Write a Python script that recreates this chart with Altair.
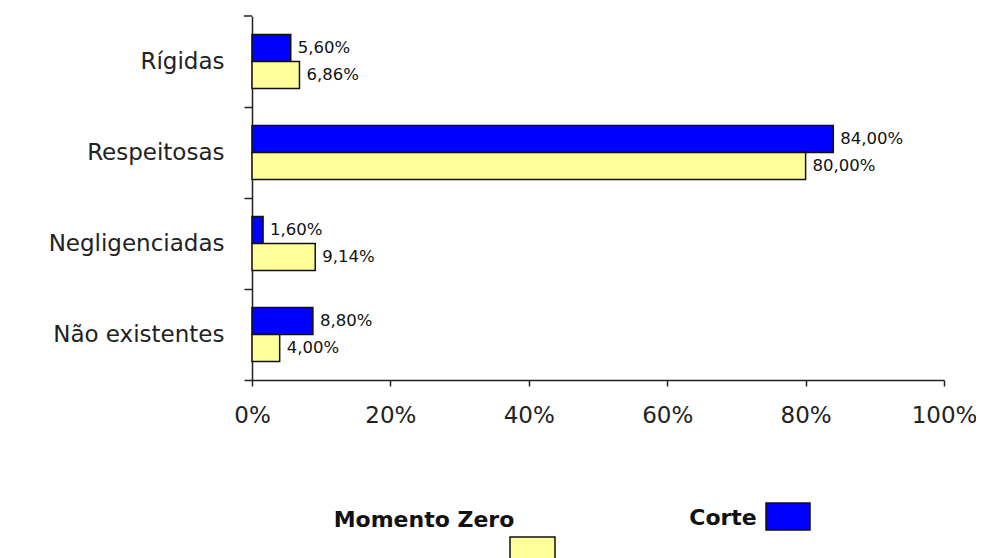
import altair as alt
import pandas as pd

categories = ["Rígidas", "Respeitosas", "Negligenciadas", "Não existentes"]
series = ["Corte", "Momento Zero"]
corte = [5.60, 84.00, 1.60, 8.80]
momento_zero = [6.86, 80.00, 9.14, 4.00]
colors = ["#0000FF", "#FFFF99"]
x_ticks = [0, 20, 40, 60, 80, 100]

rows = []
for c, v1, v2 in zip(categories, corte, momento_zero):
    rows.append({"categoria": c, "serie": "Corte", "valor": v1})
    rows.append({"categoria": c, "serie": "Momento Zero", "valor": v2})
df = pd.DataFrame(rows)

FONT = "DejaVu Sans"
INK = "#222222"

base = alt.Chart(df).encode(
    y=alt.Y(
        "categoria:N",
        sort=categories,
        scale=alt.Scale(paddingInner=0.4066, paddingOuter=0.2033),
        axis=alt.Axis(
            title=None,
            tickOffset=45.5,
            labelOffset=-45.5,
            tickSize=8,
            labelPadding=20,
            labelFontSize=23,
            labelFont=FONT,
            labelColor=INK,
            domainColor=INK,
            tickColor=INK,
            domainWidth=1.5,
            tickWidth=1.5,
        ),
    ),
    yOffset=alt.YOffset("serie:N", sort=series),
    x=alt.X(
        "valor:Q",
        scale=alt.Scale(domain=[0, 100], nice=False),
        axis=alt.Axis(
            title=None,
            values=x_ticks,
            labelExpr="datum.value + '%'",
            grid=False,
            labelFlush=False,
            tickSize=6,
            labelPadding=18,
            labelFontSize=23,
            labelFont=FONT,
            labelColor=INK,
            domainColor=INK,
            tickColor=INK,
            domainWidth=1.5,
            tickWidth=1.5,
        ),
    ),
)

bars = base.mark_bar(stroke="#111111", strokeWidth=1.5).encode(
    color=alt.Color(
        "serie:N",
        scale=alt.Scale(domain=series, range=colors),
        legend=None,
    )
)

labels = base.transform_calculate(
    rotulo="replace(format(datum.valor, '.2f'), '.', ',') + '%'"
).mark_text(
    align="left", baseline="middle", dx=7, fontSize=16.5, font=FONT, color="#111111"
).encode(text="rotulo:N")

# top tick of the category axis (band edge above the first category)
top_tick = alt.Chart(pd.DataFrame({"k": [0]})).mark_rule(
    color=INK, strokeWidth=1.5
).encode(x=alt.value(-8), x2=alt.value(0), y=alt.value(0))

leg_text_mz = alt.Chart(pd.DataFrame({"t": ["Momento Zero"]})).mark_text(
    font=FONT, fontSize=22, fontWeight="bold", align="center", baseline="middle", color="#111111"
).encode(x=alt.value(172), y=alt.value(504), text="t:N")

leg_text_c = alt.Chart(pd.DataFrame({"t": ["Corte"]})).mark_text(
    font=FONT, fontSize=22, fontWeight="bold", align="center", baseline="middle", color="#111111"
).encode(x=alt.value(471), y=alt.value(502), text="t:N")

leg_sq_mz = alt.Chart(pd.DataFrame({"s": ["Momento Zero"]})).mark_rect(
    fill=colors[1], stroke="#111111", strokeWidth=1.5
).encode(x=alt.value(258), x2=alt.value(303), y=alt.value(521), y2=alt.value(548))

leg_sq_c = alt.Chart(pd.DataFrame({"s": ["Corte"]})).mark_rect(
    fill=colors[0], stroke="#111111", strokeWidth=1.5
).encode(x=alt.value(514), x2=alt.value(558), y=alt.value(487), y2=alt.value(514))

chart = alt.layer(
    bars, labels, top_tick, leg_text_mz, leg_text_c, leg_sq_mz, leg_sq_c
).properties(
    width=692,
    height=364,
    background="white",
    autosize=alt.AutoSizeParams(type="none"),
    padding={"left": 244, "top": 8, "right": 32, "bottom": 180},
).configure_view(strokeWidth=0, stroke=None)

chart.save("out.html", embed_options={"renderer": "svg", "actions": False})
